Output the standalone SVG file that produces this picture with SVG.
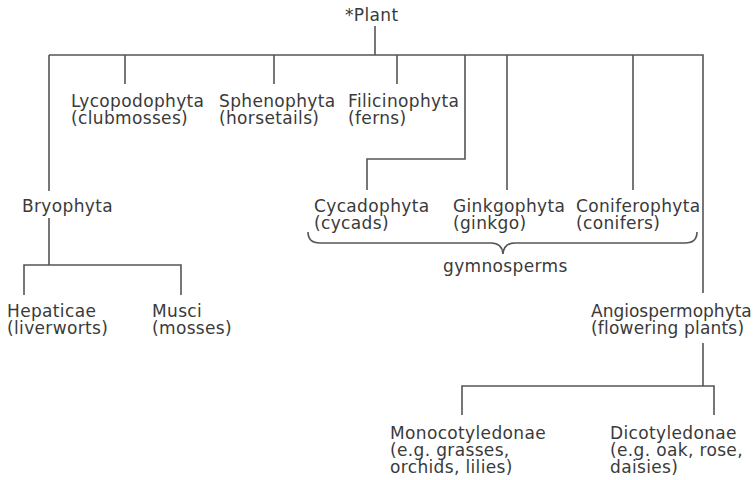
<svg xmlns="http://www.w3.org/2000/svg" width="756" height="480" viewBox="0 0 756 480">
<style>
text{font-family:"DejaVu Sans","Liberation Sans",sans-serif;font-size:17px;letter-spacing:0.35px;fill:#3a3a3a}
.c{fill:none;stroke:#555;stroke-width:1.6}
</style>
<rect width="756" height="480" fill="#fff"/>
<g id="connectors" class="c">
<path d="M375,26V55M49,55H703V293M49,55V191M125,55V84M274,55V84M397,55V84M465,55V159H367V190M507,55V190M633,55V190"/>
<path d="M49,218V265M24,295V265H181V295"/>
<path d="M703,343V386M462,415V386H714V415"/>
<path d="M308,232Q308,243 320,243L491,243Q502,243 503,254Q504,243 515,243L685,243Q697,243 697,232"/>
</g>
<g id="plant"><text x="345" y="21">*Plant</text></g>
<g id="lycopodophyta"><text x="71" y="107">Lycopodophyta</text><text x="71" y="124">(clubmosses)</text></g>
<g id="sphenophyta"><text x="219" y="107">Sphenophyta</text><text x="219" y="124">(horsetails)</text></g>
<g id="filicinophyta"><text x="348" y="107">Filicinophyta</text><text x="348" y="124">(ferns)</text></g>
<g id="bryophyta"><text x="22" y="212">Bryophyta</text></g>
<g id="hepaticae"><text x="7" y="317">Hepaticae</text><text x="7" y="334">(liverworts)</text></g>
<g id="musci"><text x="152" y="317">Musci</text><text x="152" y="334">(mosses)</text></g>
<g id="cycadophyta"><text x="314" y="212">Cycadophyta</text><text x="314" y="229">(cycads)</text></g>
<g id="ginkgophyta"><text x="453" y="212">Ginkgophyta</text><text x="453" y="229">(ginkgo)</text></g>
<g id="coniferophyta"><text x="576" y="212">Coniferophyta</text><text x="576" y="229">(conifers)</text></g>
<g id="gymnosperms"><text x="443" y="272">gymnosperms</text></g>
<g id="angiospermophyta"><text x="591" y="317" style="letter-spacing:0">Angiospermophyta</text><text x="591" y="334" style="letter-spacing:0.2px">(flowering plants)</text></g>
<g id="monocotyledonae"><text x="390" y="439">Monocotyledonae</text><text x="390" y="456">(e.g. grasses,</text><text x="390" y="473">orchids, lilies)</text></g>
<g id="dicotyledonae"><text x="610" y="439">Dicotyledonae</text><text x="610" y="456">(e.g. oak, rose,</text><text x="610" y="473">daisies)</text></g>
</svg>
